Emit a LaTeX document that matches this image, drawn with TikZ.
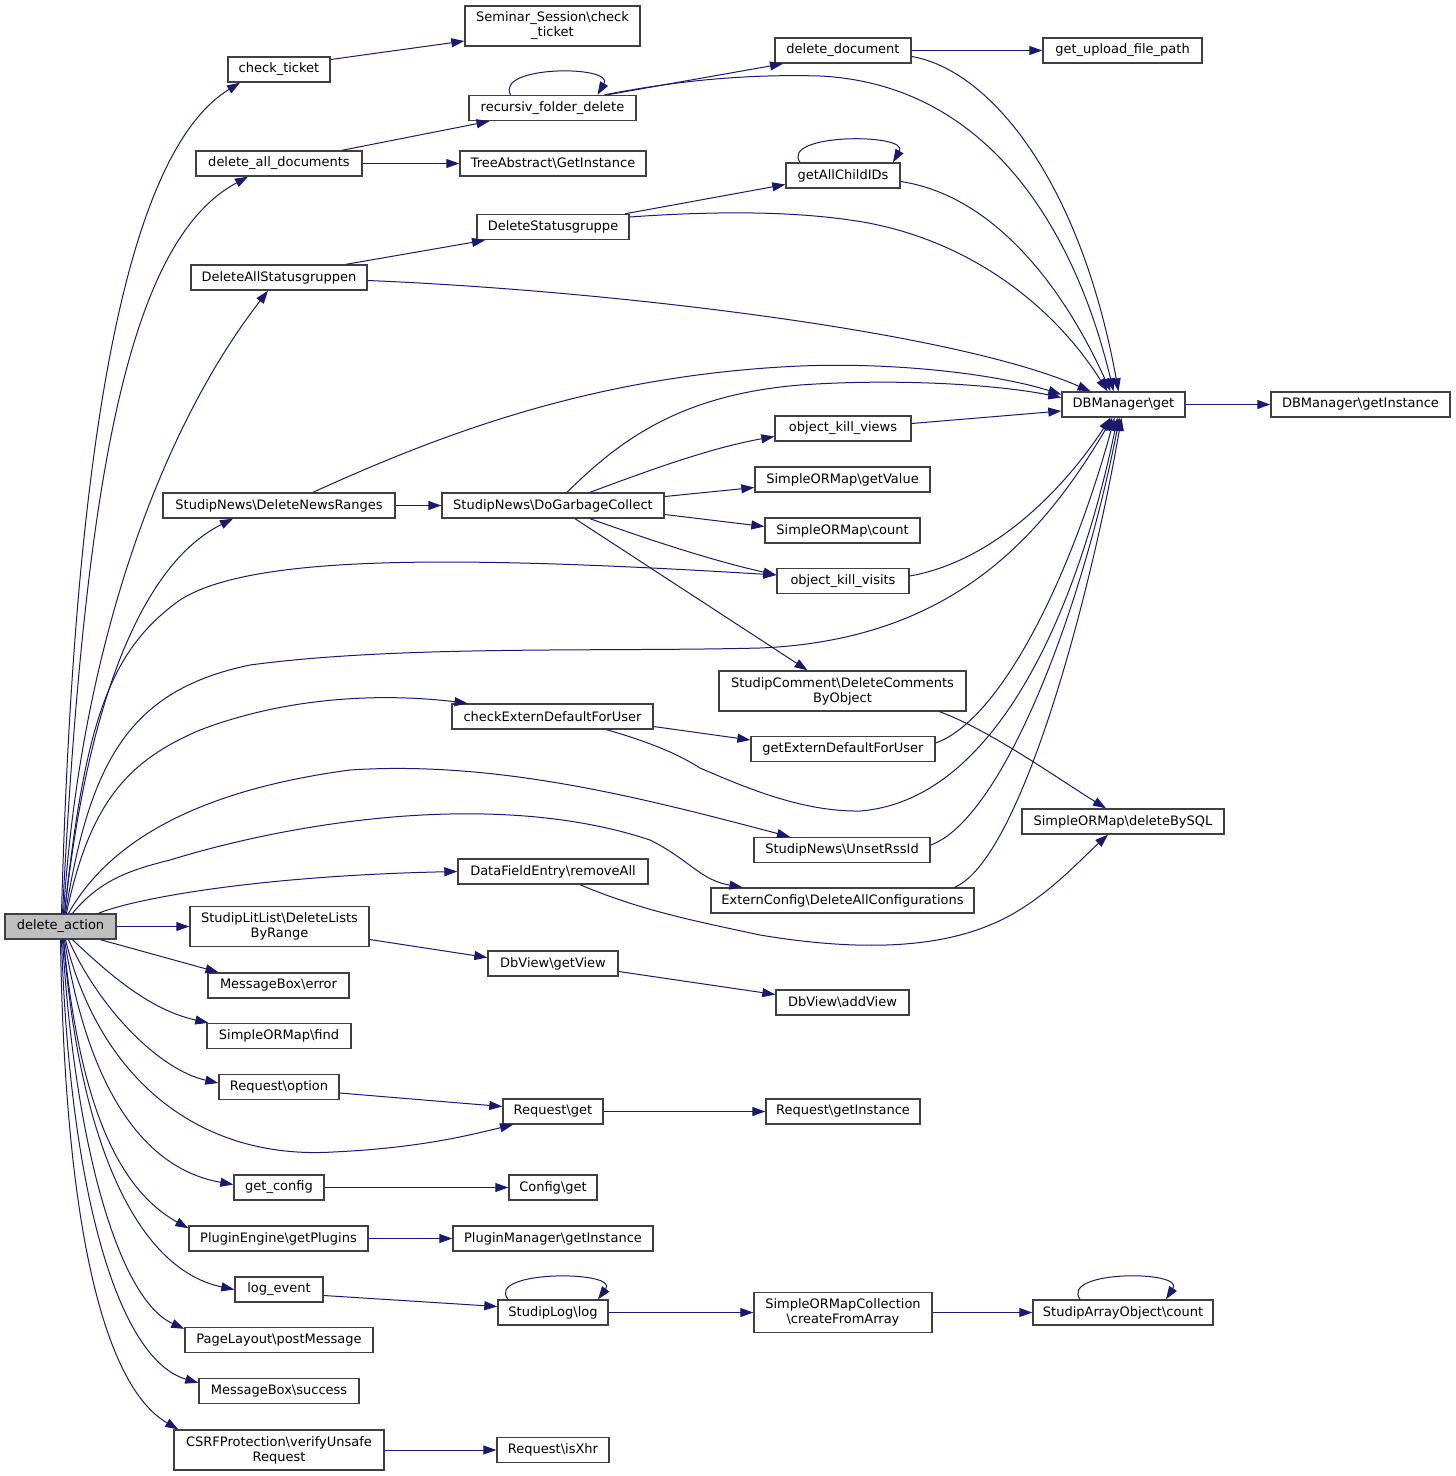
\documentclass[tikz,border=0pt]{standalone}
\usepackage{fontspec}
\setmainfont{DejaVu Sans}
\usetikzlibrary{arrows.meta}
\definecolor{edgecol}{HTML}{191970}
\definecolor{bordercol}{HTML}{404040}
\newcommand{\myBS}{\textbackslash{}}
\begin{document}
\begin{tikzpicture}[x=1pt,y=-1pt,
  box/.style={draw=bordercol, line width=1.4pt, fill=white, inner sep=0pt, minimum height=25pt,
    font=\fontsize{13}{15}\selectfont, align=center, text=black},
  tall/.style={box, minimum height=40pt},
  e/.style={draw=edgecol, line width=1pt, -{Triangle[length=13pt,width=9pt]}}]
\useasboundingbox (0,0) rectangle (1456,1476);
\fill[white] (0,0) rectangle (1456,1476);
% column 0
\node[box,minimum width=111pt,fill=black!25] (da) at (60.5,926.5) {delete\_action};
% column 1
\node[box,minimum width=102pt] (ct) at (279,69.5) {check\_ticket};
\node[box,minimum width=166pt] (dad) at (279,163.5) {delete\_all\_documents};
\node[box,minimum width=176pt] (das) at (279,277.5) {DeleteAllStatusgruppen};
\node[box,minimum width=232pt] (dnr) at (279,505.5) {StudipNews\myBS DeleteNewsRanges};
\node[tall,minimum width=179pt] (dlr) at (279.5,926.5) {StudipLitList\myBS DeleteLists\\ByRange};
\node[box,minimum width=141pt] (mbe) at (278.5,985.5) {MessageBox\myBS error};
\node[box,minimum width=144pt] (smf) at (279,1036) {SimpleORMap\myBS find};
\node[box,minimum width=120pt] (rqo) at (279,1087) {Request\myBS option};
\node[box,minimum width=90pt] (gc) at (279,1187.5) {get\_config};
\node[box,minimum width=179pt] (peg) at (278.5,1238.5) {PluginEngine\myBS getPlugins};
\node[box,minimum width=88pt] (le) at (279,1289.5) {log\_event};
\node[box,minimum width=188pt] (plp) at (279,1340) {PageLayout\myBS postMessage};
\node[box,minimum width=160pt] (mbs) at (279,1391) {MessageBox\myBS success};
\node[tall,minimum width=210pt] (csrf) at (279,1450) {CSRFProtection\myBS verifyUnsafe\\Request};
% column 2
\node[tall,minimum width=175pt] (sst) at (552.5,26) {Seminar\_Session\myBS check\\\_ticket};
\node[box,minimum width=167pt] (rfd) at (552.5,108) {recursiv\_folder\_delete};
\node[box,minimum width=186pt] (tag) at (553,163.5) {TreeAbstract\myBS GetInstance};
\node[box,minimum width=152pt] (dsg) at (553,227) {DeleteStatusgruppe};
\node[box,minimum width=222pt] (dgc) at (553,505.5) {StudipNews\myBS DoGarbageCollect};
\node[box,minimum width=201pt] (cedu) at (552.5,716.5) {checkExternDefaultForUser};
\node[box,minimum width=190pt] (dfe) at (553,871.5) {DataFieldEntry\myBS removeAll};
\node[box,minimum width=130pt] (dgv) at (553,963.5) {DbView\myBS getView};
\node[box,minimum width=100pt] (rqg) at (553,1111.5) {Request\myBS get};
\node[box,minimum width=88pt] (cfg) at (553,1187.5) {Config\myBS get};
\node[box,minimum width=200pt] (pmi) at (553,1238.5) {PluginManager\myBS getInstance};
\node[box,minimum width=110pt] (slog) at (553,1312.5) {StudipLog\myBS log};
\node[box,minimum width=112pt] (rx) at (553,1450) {Request\myBS isXhr};
% column 3
\node[box,minimum width=136pt] (dd) at (843,50.5) {delete\_document};
\node[box,minimum width=114pt] (gac) at (843,175.5) {getAllChildIDs};
\node[box,minimum width=136pt] (okv) at (843,428.5) {object\_kill\_views};
\node[box,minimum width=175pt] (sgv) at (842.5,479.5) {SimpleORMap\myBS getValue};
\node[box,minimum width=155pt] (scnt) at (842.5,530.5) {SimpleORMap\myBS count};
\node[box,minimum width=132pt] (okvi) at (843,581) {object\_kill\_visits};
\node[tall,minimum width=247pt] (scd) at (842.5,691) {StudipComment\myBS DeleteComments\\ByObject};
\node[box,minimum width=184pt] (gedu) at (843,749) {getExternDefaultForUser};
\node[box,minimum width=176pt] (urs) at (842,850) {StudipNews\myBS UnsetRssId};
\node[box,minimum width=263pt] (ecd) at (842.5,900.5) {ExternConfig\myBS DeleteAllConfigurations};
\node[box,minimum width=133pt] (dav) at (842.5,1002.5) {DbView\myBS addView};
\node[box,minimum width=154pt] (rgi) at (843,1111.5) {Request\myBS getInstance};
\node[tall,minimum width=178pt] (socf) at (843,1312.5) {SimpleORMapCollection\\\myBS createFromArray};
% column 4
\node[box,minimum width=159pt] (gufp) at (1122.5,50.5) {get\_upload\_file\_path};
\node[box,minimum width=123pt] (dbm) at (1123.5,404.5) {DBManager\myBS get};
\node[box,minimum width=202pt] (dbs) at (1123,821.5) {SimpleORMap\myBS deleteBySQL};
\node[box,minimum width=180pt] (sao) at (1123,1312.5) {StudipArrayObject\myBS count};
\node[box,minimum width=179pt] (dbi) at (1360.5,404.5) {DBManager\myBS getInstance};
% ---------- edges from delete_action (upwards)
\draw[e] ([xshift=1pt]da.north) .. controls (75,420) and (130,150) .. ([xshift=-39pt]ct.south);
\draw[e] ([xshift=2pt]da.north) .. controls (85,470) and (130,240) .. ([xshift=-31pt]dad.south);
\draw[e] ([xshift=3pt]da.north) .. controls (80,650) and (160,430) .. ([xshift=-11pt]das.south);
\draw[e] ([xshift=4pt]da.north) .. controls (90,680) and (150,560) .. ([xshift=-46pt]dnr.south);
\draw[e] ([xshift=4pt]da.north) .. controls (85,720) and (110,650) .. (180,600) .. controls (250,555) and (450,555) .. ([yshift=6pt]okvi.west);
\draw[e] ([xshift=5pt]da.north) .. controls (90,760) and (130,690) .. (250,665) .. controls (400,645) and (600,652) .. (760,648) .. controls (950,640) and (1040,540) .. ([xshift=-11pt]dbm.south);
\draw[e] ([xshift=6pt]da.north) .. controls (90,800) and (130,760) .. (200,730) .. controls (300,692) and (400,695) .. ([xshift=-85pt]cedu.north);
\draw[e] ([xshift=8pt]da.north) .. controls (110,840) and (200,790) .. (350,770) .. controls (500,760) and (650,800) .. ([xshift=-52pt]urs.north);
\draw[e] ([xshift=12pt]da.north) .. controls (100,880) and (130,870) .. (170,860) .. controls (300,820) and (500,790) .. (650,840) .. controls (690,860) and (700,880) .. ([xshift=-100pt]ecd.north);
\draw[e] ([xshift=38pt]da.north) .. controls (130,900) and (250,876) .. (dfe.west);
\draw[e] (da.east) -- (dlr.west);
% ---------- edges from delete_action (downwards)
\draw[e] ([xshift=40pt]da.south) -- ([xshift=-60pt]mbe.north);
\draw[e] ([xshift=12pt]da.south) .. controls (110,975) and (150,1010) .. ([xshift=2pt]smf.north west);
\draw[e] ([xshift=8pt]da.south) .. controls (100,1010) and (160,1070) .. ([yshift=4pt]rqo.west);
\draw[e] ([xshift=5pt]da.south) .. controls (100,1080) and (200,1160) .. (333,1152) .. controls (420,1148) and (470,1135) .. ([xshift=-40pt]rqg.south);
\draw[e] ([xshift=4pt]da.south) .. controls (90,1100) and (150,1170) .. ([yshift=3pt]gc.west);
\draw[e] ([xshift=3pt]da.south) .. controls (80,1110) and (120,1190) .. ([yshift=-3pt]peg.north west);
\draw[e] ([xshift=3pt]da.south) .. controls (80,1150) and (140,1270) .. (le.west);
\draw[e] ([xshift=2pt]da.south) .. controls (75,1150) and (120,1300) .. ([yshift=-2pt]plp.north west);
\draw[e] ([xshift=1pt]da.south) .. controls (70,1200) and (120,1360) .. ([yshift=-5pt]mbs.north west);
\draw[e] (da.south) .. controls (65,1250) and (110,1390) .. ([xshift=5pt]csrf.north west);
% ---------- other edges
\draw[e] ([yshift=10pt]ct.east) -- ([yshift=-15pt]sst.west);
\draw[e] ([xshift=63pt]dad.north) -- ([xshift=-63pt]rfd.south);
\draw[e] (dad.east) -- (tag.west);
\draw[e] ([xshift=-42pt]rfd.north) .. controls (495,65) and (615,65) .. ([xshift=45pt]rfd.north);
\draw[e] ([xshift=55pt]rfd.north) -- ([xshift=-60pt]dd.south);
\draw[e] ([xshift=52pt]rfd.north) .. controls (680,80) and (750,74) .. (820,76) .. controls (1000,85) and (1080,250) .. ([xshift=-10pt]dbm.north);
\draw[e] (dd.east) -- (gufp.west);
\draw[e] ([yshift=-6pt]dd.east) .. controls (990,70) and (1080,180) .. ([xshift=-5pt]dbm.north);
\draw[e] ([xshift=67pt]das.north) -- ([xshift=-68pt]dsg.south);
\draw[e] ([yshift=-3pt]das.east) .. controls (600,290) and (950,330) .. ([xshift=-33pt]dbm.north);
\draw[e] ([xshift=72pt]dsg.north) -- ([yshift=-9pt]gac.west);
\draw[e] ([yshift=10pt]dsg.east) .. controls (700,212) and (780,210) .. (850,220) .. controls (960,235) and (1050,300) .. ([xshift=-16pt]dbm.north);
\draw[e] ([xshift=-43pt]gac.north) .. controls (780,133) and (910,133) .. ([xshift=50pt]gac.north);
\draw[e] ([yshift=-6pt]gac.east) .. controls (990,195) and (1060,280) .. ([xshift=-13pt]dbm.north);
\draw[e] ([xshift=34pt]dnr.north) .. controls (450,430) and (600,375) .. (800,366) .. controls (900,362) and (1000,375) .. ([yshift=10pt]dbm.west);
\draw[e] (dnr.east) -- (dgc.west);
\draw[e] ([xshift=14pt]dgc.north) .. controls (620,440) and (680,395) .. (800,385) .. controls (900,378) and (1000,385) .. ([yshift=7pt]dbm.west);
\draw[e] ([yshift=5pt]okv.east) -- ([yshift=-6.5pt]dbm.west);
\draw[e] ([xshift=37pt]dgc.north) .. controls (650,470) and (710,448) .. ([yshift=-8pt]okv.west);
\draw[e] ([yshift=9pt]dgc.east) -- ([yshift=-8pt]sgv.west);
\draw[e] ([yshift=-9pt]dgc.east) -- ([yshift=4pt]scnt.west);
\draw[e] ([xshift=37pt]dgc.south) .. controls (650,540) and (710,560) .. ([yshift=6pt]okvi.west);
\draw[e] ([xshift=22pt]dgc.south) -- ([xshift=-35pt]scd.north);
\draw[e] ([xshift=97pt]scd.south) .. controls (990,730) and (1060,780) .. ([xshift=-17pt]dbs.north);
\draw[e] ([yshift=5pt]okvi.east) .. controls (1000,560) and (1070,480) .. ([xshift=-13pt]dbm.south);
\draw[e] ([yshift=-10pt]cedu.east) -- ([yshift=9pt]gedu.west);
\draw[e] ([xshift=54pt]cedu.south) .. controls (650,742) and (680,755) .. (700,768) .. controls (740,785) and (800,812) .. (860,811) .. controls (1000,800) and (1080,600) .. ([xshift=-6pt]dbm.south);
\draw[e] ([yshift=6pt]gedu.east) .. controls (1000,720) and (1070,580) .. ([xshift=-9pt]dbm.south);
\draw[e] ([yshift=5pt]urs.east) .. controls (1000,820) and (1080,620) .. ([xshift=-4pt]dbm.south);
\draw[e] ([xshift=112pt]ecd.north) .. controls (1020,860) and (1090,600) .. ([xshift=-2pt]dbm.south);
\draw[e] ([xshift=27pt]dfe.south) .. controls (640,910) and (690,920) .. (760,935) .. controls (850,950) and (930,950) .. (990,925) .. controls (1040,905) and (1080,860) .. ([xshift=-15pt]dbs.south);
\draw[e] ([yshift=-13pt]dlr.east) -- ([yshift=6pt]dgv.west);
\draw[e] ([yshift=-8pt]dgv.east) -- ([yshift=8pt]dav.west);
\draw[e] ([yshift=-6pt]rqo.east) -- ([yshift=5pt]rqg.west);
\draw[e] (rqg.east) -- (rgi.west);
\draw[e] (gc.east) -- (cfg.west);
\draw[e] (peg.east) -- (pmi.west);
\draw[e] ([yshift=-6pt]le.east) -- ([yshift=6pt]slog.west);
\draw[e] ([xshift=-45pt]slog.north) .. controls (485,1270) and (620,1270) .. ([xshift=45pt]slog.north);
\draw[e] (slog.east) -- (socf.west);
\draw[e] (socf.east) -- (sao.west);
\draw[e] ([xshift=-43pt]sao.north) .. controls (1060,1270) and (1185,1270) .. ([xshift=43pt]sao.north);
\draw[e] (csrf.east) -- (rx.west);
\draw[e] (dbm.east) -- (dbi.west);
\end{tikzpicture}
\end{document}
